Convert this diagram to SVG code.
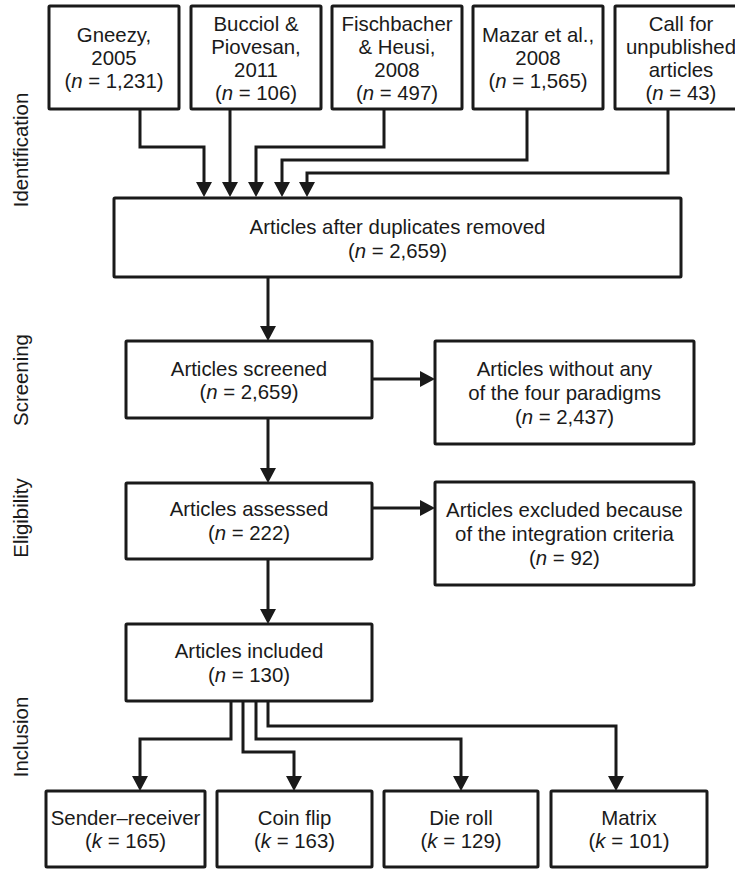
<svg xmlns="http://www.w3.org/2000/svg" width="735" height="869" viewBox="0 0 735 869">
<style>
.box{fill:#fff;stroke:#1a1a1a;stroke-width:3}
.t{font-family:"Liberation Sans",Arial,sans-serif;font-size:20.4px;fill:#1a1a1a;text-anchor:middle}
.c{fill:none;stroke:#1a1a1a;stroke-width:3;marker-end:url(#ah)}
.i{font-style:italic}
</style>
<defs>
<marker id="ah" markerUnits="userSpaceOnUse" markerWidth="16" markerHeight="16" refX="0" refY="8" orient="auto" viewBox="0 0 16 16">
<path d="M0,0 L15,8 L0,16 z" fill="#1a1a1a"/>
</marker>
</defs>
<rect width="735" height="869" fill="#fff"/>
<g id="labels">
<text class="t" transform="translate(28,150) rotate(-90)">Identification</text>
<text class="t" transform="translate(28,380) rotate(-90)">Screening</text>
<text class="t" transform="translate(28,518) rotate(-90)">Eligibility</text>
<text class="t" transform="translate(28,737) rotate(-90)">Inclusion</text>
</g>
<g id="connectors">
<path class="c" d="M140,109 V147 H204 V182"/>
<path class="c" d="M230,109 V182"/>
<path class="c" d="M384,109 V147 H256 V182"/>
<path class="c" d="M527,109 V160 H282 V182"/>
<path class="c" d="M668,109 V173 H307 V182"/>
<path class="c" d="M268,277 V326"/>
<path class="c" d="M372,379 H420"/>
<path class="c" d="M268,418 V468"/>
<path class="c" d="M372,508 H420"/>
<path class="c" d="M268,559 V609"/>
<path class="c" d="M231,701 V739 H140 V776"/>
<path class="c" d="M243,701 V752 H294 V776"/>
<path class="c" d="M256,701 V739 H461 V776"/>
<path class="c" d="M268,701 V726 H616 V776"/>
</g>
<g id="gneezy">
<rect class="box" x="49" y="6" width="130" height="103" rx="1"/>
<text class="t" x="114" y="42">Gneezy,</text>
<text class="t" x="114" y="65">2005</text>
<text class="t" x="114" y="88">(<tspan class="i">n</tspan> = 1,231)</text>
</g>
<g id="bucciol">
<rect class="box" x="191" y="6" width="130" height="103" rx="1"/>
<text class="t" x="256" y="31">Bucciol &amp;</text>
<text class="t" x="256" y="54">Piovesan,</text>
<text class="t" x="256" y="77">2011</text>
<text class="t" x="256" y="100">(<tspan class="i">n</tspan> = 106)</text>
</g>
<g id="fischbacher">
<rect class="box" x="332" y="6" width="130" height="103" rx="1"/>
<text class="t" x="397" y="31">Fischbacher</text>
<text class="t" x="397" y="54">&amp; Heusi,</text>
<text class="t" x="397" y="77">2008</text>
<text class="t" x="397" y="100">(<tspan class="i">n</tspan> = 497)</text>
</g>
<g id="mazar">
<rect class="box" x="473" y="6" width="130" height="103" rx="1"/>
<text class="t" x="538" y="42">Mazar et al.,</text>
<text class="t" x="538" y="65">2008</text>
<text class="t" x="538" y="88">(<tspan class="i">n</tspan> = 1,565)</text>
</g>
<g id="call">
<rect class="box" x="615" y="6" width="130" height="103" rx="1"/>
<text class="t" x="681" y="31">Call for</text>
<text class="t" x="681" y="54">unpublished</text>
<text class="t" x="681" y="77">articles</text>
<text class="t" x="681" y="100">(<tspan class="i">n</tspan> = 43)</text>
</g>
<g id="duplicates">
<rect class="box" x="114" y="198" width="567" height="79" rx="1"/>
<text class="t" x="397.5" y="234">Articles after duplicates removed</text>
<text class="t" x="397.5" y="258">(<tspan class="i">n</tspan> = 2,659)</text>
</g>
<g id="screened">
<rect class="box" x="126" y="341" width="246" height="77" rx="1"/>
<text class="t" x="249" y="376">Articles screened</text>
<text class="t" x="249" y="399">(<tspan class="i">n</tspan> = 2,659)</text>
</g>
<g id="without">
<rect class="box" x="435" y="341" width="259" height="103" rx="1"/>
<text class="t" x="564.5" y="376">Articles without any</text>
<text class="t" x="564.5" y="400">of the four paradigms</text>
<text class="t" x="564.5" y="424">(<tspan class="i">n</tspan> = 2,437)</text>
</g>
<g id="assessed">
<rect class="box" x="126" y="483" width="246" height="76" rx="1"/>
<text class="t" x="249" y="516">Articles assessed</text>
<text class="t" x="249" y="540">(<tspan class="i">n</tspan> = 222)</text>
</g>
<g id="excluded">
<rect class="box" x="435" y="482" width="259" height="103" rx="1"/>
<text class="t" x="564.5" y="517">Articles excluded because</text>
<text class="t" x="564.5" y="541">of the integration criteria</text>
<text class="t" x="564.5" y="565">(<tspan class="i">n</tspan> = 92)</text>
</g>
<g id="included">
<rect class="box" x="126" y="624" width="246" height="77" rx="1"/>
<text class="t" x="249" y="658">Articles included</text>
<text class="t" x="249" y="682">(<tspan class="i">n</tspan> = 130)</text>
</g>
<g id="sender">
<rect class="box" x="46" y="791" width="159" height="76" rx="1"/>
<text class="t" x="125.5" y="825">Sender–receiver</text>
<text class="t" x="125.5" y="848">(<tspan class="i">k</tspan> = 165)</text>
</g>
<g id="coin">
<rect class="box" x="217" y="791" width="155" height="76" rx="1"/>
<text class="t" x="294.5" y="825">Coin flip</text>
<text class="t" x="294.5" y="848">(<tspan class="i">k</tspan> = 163)</text>
</g>
<g id="die">
<rect class="box" x="384" y="791" width="154" height="76" rx="1"/>
<text class="t" x="461" y="825">Die roll</text>
<text class="t" x="461" y="848">(<tspan class="i">k</tspan> = 129)</text>
</g>
<g id="matrix">
<rect class="box" x="551" y="791" width="156" height="76" rx="1"/>
<text class="t" x="629" y="825">Matrix</text>
<text class="t" x="629" y="848">(<tspan class="i">k</tspan> = 101)</text>
</g>
</svg>
